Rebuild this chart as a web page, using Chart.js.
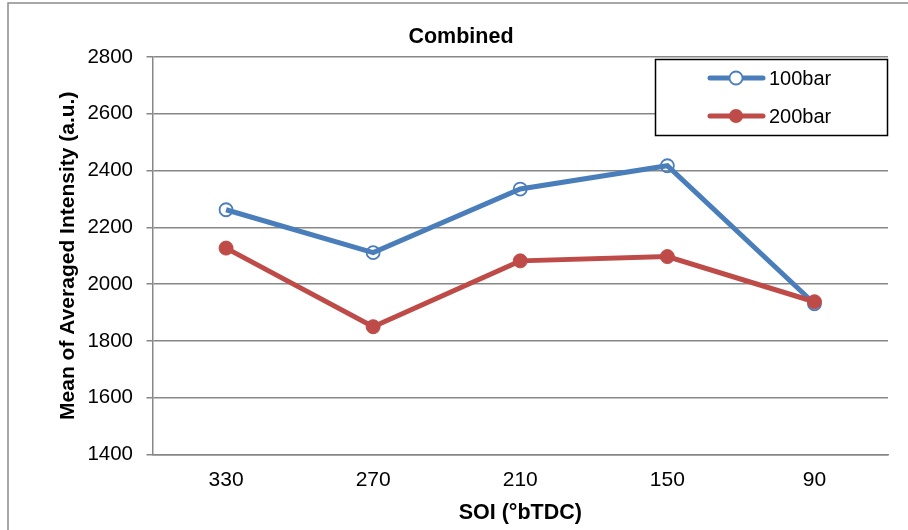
<!DOCTYPE html>
<html>
<head>
<meta charset="utf-8">
<script src="https://cdn.jsdelivr.net/npm/chart.js@4/dist/chart.umd.min.js"></script>
<style>
  html, body { margin: 0; padding: 0; background: #fff; }
  #c { display: block; }
</style>
</head>
<body>
<canvas id="c" width="908" height="530"></canvas>
<script>
// SOI timing categories (°bTDC) and the two injection-pressure series
const categories = ['330', '270', '210', '150', '90'];
const intensity100bar = [2262, 2111, 2335, 2417, 1931];
const intensity200bar = [2127, 1850, 2082, 2097, 1938];
const seriesLabels = ['100bar', '200bar'];
const chartTitle = 'Combined';
const yMin = 1400, yMax = 2800, yStep = 200;

const FONT = "'Liberation Sans', Arial, sans-serif";
const GRID = '#878787';
const BLUE = '#4A7EBB';
const RED = '#BE4B48';

// white page background, the thin frame around the whole chart, and the heading
const frame = {
  id: 'frame',
  beforeDraw(chart) {
    const ctx = chart.ctx;
    ctx.save();
    ctx.fillStyle = '#fff';
    ctx.fillRect(0, 0, chart.width, chart.height);
    ctx.strokeStyle = '#8a8a8a';
    ctx.lineWidth = 1.5;
    ctx.strokeRect(8, 3, chart.width + 20, chart.height + 20);
    ctx.fillStyle = '#000';
    ctx.font = 'bold 21.5px ' + FONT;
    ctx.textAlign = 'center';
    ctx.textBaseline = 'alphabetic';
    ctx.fillText(chartTitle, 461, 43);
    ctx.restore();
  }
};

// boxed legend inside the top-right of the plot
const boxLegend = {
  id: 'boxLegend',
  afterDraw(chart) {
    const ctx = chart.ctx;
    const box = { x: 655.5, y: 59.5, w: 232, h: 76 };
    ctx.save();
    ctx.fillStyle = '#fff';
    ctx.fillRect(box.x, box.y, box.w, box.h);
    ctx.strokeStyle = '#000';
    ctx.lineWidth = 1.5;
    ctx.strokeRect(box.x, box.y, box.w, box.h);
    chart.data.datasets.forEach((ds, i) => {
      const y = 78 + i * 38;
      ctx.strokeStyle = ds.borderColor;
      ctx.lineWidth = 5;
      ctx.lineCap = 'round';
      ctx.beginPath();
      ctx.moveTo(710, y);
      ctx.lineTo(763, y);
      ctx.stroke();
      ctx.beginPath();
      ctx.arc(736, y, ds.pointRadius, 0, Math.PI * 2);
      if (ds.pointBackgroundColor !== 'transparent') {
        ctx.fillStyle = ds.pointBackgroundColor;
        ctx.fill();
      } else {
        ctx.fillStyle = '#fff';
        ctx.fill();
        ctx.lineWidth = ds.pointBorderWidth;
        ctx.strokeStyle = ds.pointBorderColor;
        ctx.stroke();
      }
      ctx.fillStyle = '#000';
      ctx.font = '20px ' + FONT;
      ctx.textAlign = 'left';
      ctx.textBaseline = 'middle';
      ctx.fillText(ds.label, 769, y + 1);
    });
    ctx.restore();
  }
};

new Chart(document.getElementById('c'), {
  type: 'line',
  data: {
    labels: categories,
    datasets: [
      {
        label: seriesLabels[0],
        data: intensity100bar,
        borderColor: BLUE,
        borderWidth: 5,
        pointRadius: 6.5,
        pointHoverRadius: 6.5,
        pointBackgroundColor: 'transparent',
        pointBorderColor: BLUE,
        pointBorderWidth: 1.8,
        tension: 0,
        order: 2
      },
      {
        label: seriesLabels[1],
        data: intensity200bar,
        borderColor: RED,
        borderWidth: 5,
        pointRadius: 7,
        pointHoverRadius: 7,
        pointBackgroundColor: RED,
        pointBorderColor: RED,
        pointBorderWidth: 1,
        tension: 0,
        order: 1
      }
    ]
  },
  options: {
    responsive: false,
    animation: false,
    events: [],
    layout: { padding: { left: 0, right: 20, top: 57, bottom: 0 } },
    plugins: {
      legend: { display: false },
      tooltip: { enabled: false },
      title: { display: false }
    },
    scales: {
      x: {
        offset: true,
        grid: { display: false, drawTicks: false },
        border: { display: true, color: GRID, width: 1.5 },
        ticks: {
          color: '#000',
          font: { family: FONT, size: 21, lineHeight: 1.2 },
          padding: 13,
          maxRotation: 0
        },
        title: {
          display: true,
          text: 'SOI (°bTDC)',
          color: '#000',
          font: { family: FONT, size: 21.5, weight: 'bold', lineHeight: 1.2 },
          padding: { top: 0, bottom: 4 }
        },
        afterFit(scale) { scale.height = 75.5; }
      },
      y: {
        min: yMin,
        max: yMax,
        grid: { color: GRID, lineWidth: 1.5, tickLength: 6, drawTicks: true },
        border: { display: true, color: GRID, width: 1.5 },
        ticks: {
          stepSize: yStep,
          color: '#000',
          font: { family: FONT, size: 20.5, lineHeight: 1.2 },
          padding: 13.5,
          callback: (v) => String(v)
        },
        title: {
          display: true,
          text: 'Mean of Averaged Intensity (a.u.)',
          color: '#000',
          font: { family: FONT, size: 21, weight: 'bold', lineHeight: 1.2 },
          padding: { top: 56, bottom: 0 }
        },
        afterFit(scale) { scale.width = 152.5; }
      }
    }
  },
  plugins: [frame, boxLegend]
});
</script>
</body>
</html>
